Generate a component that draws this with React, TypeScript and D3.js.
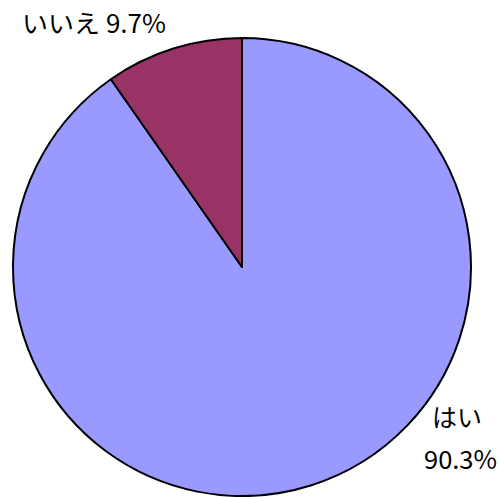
import React, { useEffect, useRef } from "react";
import * as d3 from "d3";

const categories = ["はい", "いいえ"];
const values = [90.3, 9.7];
const colors = ["#9999FF", "#993366"];

export default function App() {
  const svgRef = useRef<SVGSVGElement | null>(null);

  useEffect(() => {
    const svg = d3.select(svgRef.current);
    svg.selectAll("*").remove();

    const width = 499;
    const height = 497;
    const cx = 242;
    const cy = 267;
    const radius = 229;

    const pie = d3.pie<number>().sort(null).value((d) => d);
    const arcs = pie(values);
    const arcGen = d3.arc<d3.PieArcDatum<number>>().innerRadius(0).outerRadius(radius);

    const g = svg.append("g").attr("transform", `translate(${cx},${cy})`);
    g.selectAll("path")
      .data(arcs)
      .enter()
      .append("path")
      .attr("d", arcGen)
      .attr("fill", (d, i) => colors[i])
      .attr("stroke", "#000")
      .attr("stroke-width", 2)
      .attr("stroke-linejoin", "round");

    const font = "'Noto Sans CJK JP', sans-serif";

    // labels: narrow gothic look -> squeeze with textLength
    const label = (x: number, y: number, txt: string, len: number) =>
      svg.append("text")
        .attr("x", x)
        .attr("y", y)
        .attr("font-family", font)
        .attr("font-size", 25)
        .attr("fill", "#000")
        .attr("textLength", len)
        .attr("lengthAdjust", "spacingAndGlyphs")
        .text(txt);

    label(22, 33, `${categories[1]} ${values[1]}%`, 144);
    label(432, 427, categories[0], 50);
    label(424, 469, `${values[0]}%`, 73);

    svg.attr("width", width).attr("height", height);
  }, []);

  return (
    <svg
      ref={svgRef}
      width={499}
      height={497}
      style={{ position: "absolute", left: 0, top: 0, background: "#fff" }}
    />
  );
}
